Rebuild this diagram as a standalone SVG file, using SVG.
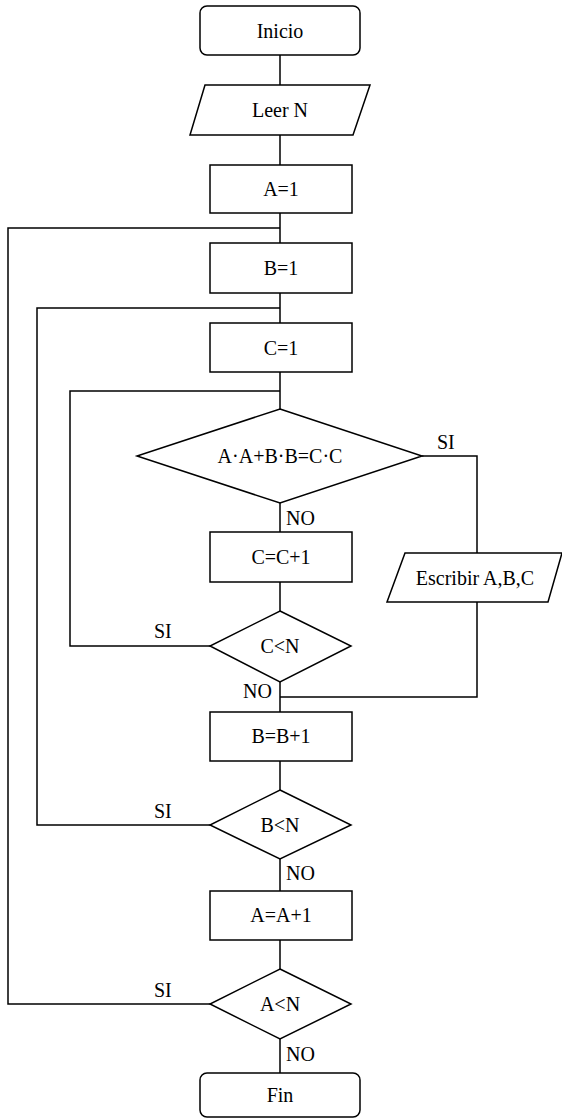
<svg xmlns="http://www.w3.org/2000/svg" width="562" height="1120" viewBox="0 0 562 1120">
<style>
.s{fill:#fff;stroke:#000;stroke-width:1.5}
.c{fill:none;stroke:#000;stroke-width:1.5}
text{font-family:"Liberation Serif","Times New Roman",serif;font-size:20px;fill:#000}
.m{text-anchor:middle}
</style>
<rect width="562" height="1120" fill="#fff"/>
<g id="connectors">
<path class="c" d="M280 55V85M280 135V165M280 213V243M280 293V323M280 372V409M280 503V532M280 582V611M280 682V712M280 761V790M280 859V891M280 940V969M280 1039V1073"/>
<path class="c" d="M280 228H8V1004H210"/>
<path class="c" d="M280 308H37V825H210"/>
<path class="c" d="M280 391H70V646H210"/>
<path class="c" d="M422 456H477V553M477 602V697H280"/>
</g>
<g id="inicio"><rect class="s" x="200" y="6" width="160" height="49" rx="7"/><text class="m" x="280" y="38">Inicio</text></g>
<g id="leer"><polygon class="s" points="205,85 370,85 353,135 190,135"/><text class="m" x="280" y="117">Leer N</text></g>
<g id="a1"><rect class="s" x="210" y="165" width="142" height="48"/><text class="m" x="281" y="196">A=1</text></g>
<g id="b1"><rect class="s" x="210" y="243" width="142" height="50"/><text class="m" x="281" y="275">B=1</text></g>
<g id="c1"><rect class="s" x="210" y="323" width="142" height="49"/><text class="m" x="281" y="355">C=1</text></g>
<g id="cond"><polygon class="s" points="280,409 422,456 280,503 137,456"/><text class="m" x="280" y="463">A·A+B·B=C·C</text><text x="437" y="449">SI</text><text x="286" y="525">NO</text></g>
<g id="cinc"><rect class="s" x="210" y="532" width="142" height="50"/><text class="m" x="281" y="564">C=C+1</text></g>
<g id="escribir"><polygon class="s" points="405,553 562,553 548,602 387,602"/><text class="m" x="475" y="585">Escribir A,B,C</text></g>
<g id="cn"><polygon class="s" points="280,611 351,646 280,682 210,646"/><text class="m" x="280" y="653">C&lt;N</text><text x="154" y="638">SI</text><text x="243" y="698">NO</text></g>
<g id="binc"><rect class="s" x="210" y="712" width="142" height="49"/><text class="m" x="281" y="743">B=B+1</text></g>
<g id="bn"><polygon class="s" points="280,790 351,825 280,859 210,825"/><text class="m" x="280" y="832">B&lt;N</text><text x="154" y="818">SI</text><text x="286" y="880">NO</text></g>
<g id="ainc"><rect class="s" x="210" y="891" width="142" height="49"/><text class="m" x="281" y="922">A=A+1</text></g>
<g id="an"><polygon class="s" points="280,969 351,1004 280,1039 210,1004"/><text class="m" x="280" y="1011">A&lt;N</text><text x="154" y="997">SI</text><text x="286" y="1061">NO</text></g>
<g id="fin"><rect class="s" x="200" y="1073" width="160" height="44" rx="7"/><text class="m" x="280" y="1102">Fin</text></g>
</svg>
